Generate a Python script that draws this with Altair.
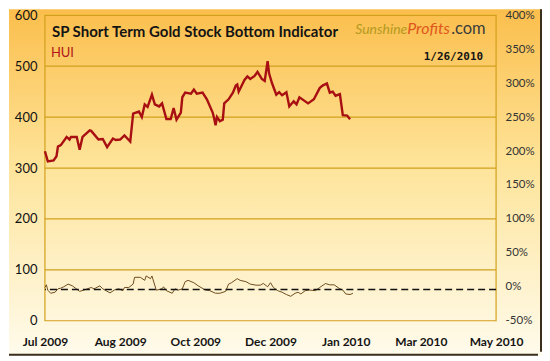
import altair as alt
import pandas as pd

# ---------------- data ----------------
hui_dates = [
    "2009-07-01", "2009-07-03", "2009-07-07", "2009-07-09", "2009-07-10", "2009-07-12",
    "2009-07-16", "2009-07-18", "2009-07-19", "2009-07-23", "2009-07-25", "2009-07-27",
    "2009-08-01", "2009-08-02", "2009-08-07", "2009-08-10", "2009-08-13", "2009-08-17",
    "2009-08-19", "2009-08-22", "2009-08-25", "2009-08-29", "2009-08-31", "2009-09-04",
    "2009-09-06", "2009-09-08", "2009-09-10", "2009-09-13", "2009-09-15", "2009-09-18",
    "2009-09-20", "2009-09-23", "2009-09-26", "2009-09-28", "2009-09-30", "2009-10-03",
    "2009-10-04", "2009-10-06", "2009-10-10", "2009-10-12", "2009-10-14", "2009-10-18",
    "2009-10-21", "2009-10-25", "2009-10-26", "2009-10-27", "2009-10-28", "2009-10-30",
    "2009-11-01", "2009-11-02", "2009-11-05", "2009-11-08", "2009-11-10", "2009-11-11",
    "2009-11-12", "2009-11-16", "2009-11-18", "2009-11-20", "2009-11-23", "2009-11-25",
    "2009-11-28", "2009-11-30", "2009-12-02", "2009-12-03", "2009-12-05", "2009-12-08",
    "2009-12-10", "2009-12-12", "2009-12-15", "2009-12-17", "2009-12-20", "2009-12-22",
    "2009-12-24", "2009-12-30", "2010-01-03", "2010-01-07", "2010-01-09", "2010-01-12",
    "2010-01-14", "2010-01-16", "2010-01-18", "2010-01-21", "2010-01-23", "2010-01-26",
    "2010-01-28",
]
hui_values = [
    333, 313, 315, 323, 342, 345,
    361, 356, 361, 361, 336, 361,
    374, 373, 356, 357, 341, 358,
    355, 356, 364, 352, 407, 411,
    400, 425, 420, 444, 425, 421,
    427, 396, 396, 418, 395, 409,
    439, 448, 446, 454, 446, 448,
    435, 409, 398, 384, 400, 392,
    395, 427, 435, 448, 462, 464,
    450, 473, 480, 475, 481, 489,
    475, 471, 510, 486, 467, 444,
    449, 443, 449, 421, 431, 425,
    439, 427, 435, 457, 462, 466,
    448, 450, 442, 445, 404, 403,
    396,
]

ind_dates = [
    "2009-07-01", "2009-07-02", "2009-07-03", "2009-07-05", "2009-07-08", "2009-07-10",
    "2009-07-12", "2009-07-14", "2009-07-17", "2009-07-20", "2009-07-25", "2009-07-28",
    "2009-08-02", "2009-08-04", "2009-08-08", "2009-08-10", "2009-08-15", "2009-08-18",
    "2009-08-21", "2009-08-24", "2009-08-25", "2009-08-28", "2009-08-31", "2009-09-01",
    "2009-09-05", "2009-09-08", "2009-09-09", "2009-09-12", "2009-09-13", "2009-09-16",
    "2009-09-20", "2009-09-21", "2009-09-23", "2009-09-27", "2009-09-29", "2009-10-01",
    "2009-10-04", "2009-10-06", "2009-10-08", "2009-10-12", "2009-10-15", "2009-10-20",
    "2009-10-23", "2009-10-27", "2009-10-30", "2009-11-03", "2009-11-05", "2009-11-07",
    "2009-11-11", "2009-11-13", "2009-11-17", "2009-11-20", "2009-11-24", "2009-11-27",
    "2009-11-29", "2009-12-02", "2009-12-04", "2009-12-06", "2009-12-09", "2009-12-12",
    "2009-12-15", "2009-12-18", "2009-12-21", "2009-12-23", "2009-12-25", "2009-12-28",
    "2009-12-31", "2010-01-04", "2010-01-07", "2010-01-11", "2010-01-14", "2010-01-17",
    "2010-01-21", "2010-01-23", "2010-01-25", "2010-01-28", "2010-01-30",
]
ind_values = [
    -1, 3, -5, -9.5, -8, -3,
    -2, 0, 4, 1.4, -6.7, -4.8,
    -1, -3, 1.4, -3, -9, -4.8,
    -3, -5.7, -1, -1, 4, 14,
    14, 9.5, 16, 12, 16, -5,
    -3, 0, -5.7, -9.5, -3, -5,
    -3, 7.6, 9.5, 6, 1.4, -4.8,
    -5.7, -9.5, -9.5, -6.7, 4, 6,
    12, 9.5, 7.6, 4, 2.4, 2.4,
    5, 0, 6, -1, -5.7, -8,
    -11.4, -14, -9.5, -8, -10.5, -5.7,
    -4.8, -5.7, -1, 4.8, 2.9, 2.9,
    -3, -4.8, -10.5, -11.4, -9.5,
]

left_ticks = [0, 100, 200, 300, 400, 500, 600]
grid_values = [100, 200, 300, 400, 500]
right_ticks = [-50, 0, 50, 100, 150, 200, 250, 300, 350, 400]
x_tick_dates = ["2009-07-01", "2009-08-22", "2009-10-13", "2009-12-04",
                "2010-01-25", "2010-03-18", "2010-05-09"]
x_domain = ["2009-07-01", "2010-05-09"]
threshold_values = [-4]

title_text = "SP Short Term Gold Stock Bottom Indicator"
series_label = "HUI"
date_text = "1/26/2010"

# ---------------- layout ----------------
W, H = 452, 306
PAD_L, PAD_R, PAD_T, PAD_B = 36, 46, 6, 35
GOLD = "#D2A01C"
FONT = "Lato"


def dt(s):
    y, m, d = (int(p) for p in s.split("-"))
    return alt.DateTime(year=y, month=m, date=d, utc=True)


hui_df = pd.DataFrame({"date": hui_dates, "hui": hui_values})
ind_df = pd.DataFrame({"date": ind_dates, "ind": ind_values})
grid_df = pd.DataFrame({"g": grid_values})
thr_df = pd.DataFrame({"t": threshold_values})
one = pd.DataFrame({"k": [0]})

x_enc = alt.X(
    "date:T",
    scale=alt.Scale(type="utc", domain=[dt(x_domain[0]), dt(x_domain[1])]),
    axis=alt.Axis(
        values=[dt(s) for s in x_tick_dates], labelExpr="utcFormat(datum.value, '%b %Y')",
        title=None, grid=False, domain=False, ticks=False, zindex=2,
        labelFont=FONT, labelFontSize=12, labelFontWeight="bold", labelColor="#141414",
        labelPadding=16, labelFlush=False, labelOverlap=False,
    ),
)

bg = alt.Chart(one).mark_rect(
    fill=alt.Gradient(
        gradient="linear", x1=0, x2=0, y1=0, y2=1,
        stops=[alt.GradientStop(color="#FBBE4C", offset=0),
               alt.GradientStop(color="#FEE49A", offset=0.45),
               alt.GradientStop(color="#FFFBEC", offset=1)],
    )
).encode(x=alt.value(-PAD_L), x2=alt.value(W + PAD_R),
         y=alt.value(-PAD_T), y2=alt.value(H + PAD_B))

edge_right = alt.Chart(one).mark_rule(color="#3A2E1C", strokeWidth=2).encode(
    x=alt.value(W + PAD_R - 1), y=alt.value(-PAD_T), y2=alt.value(H + PAD_B - 4))
edge_bottom = alt.Chart(one).mark_rule(color="#3A2E1C", strokeWidth=2).encode(
    x=alt.value(-PAD_L), x2=alt.value(W + PAD_R - 4), y=alt.value(H + PAD_B - 1))

plot_box = alt.Chart(one).mark_rect(filled=False, stroke=GOLD, strokeWidth=1.2).encode(
    x=alt.value(0), x2=alt.value(W), y=alt.value(0), y2=alt.value(H))

grid = alt.Chart(grid_df).mark_rule(color=GOLD, strokeWidth=1.2).encode(
    y=alt.Y("g:Q", scale=alt.Scale(domain=[0, 600]), axis=None))

hui_line = alt.Chart(hui_df).mark_line(color="#A80F12", strokeWidth=2.4).encode(
    x=x_enc,
    y=alt.Y("hui:Q", scale=alt.Scale(domain=[0, 600]),
            axis=alt.Axis(orient="left", values=left_ticks, title=None, grid=False,
                          domain=False, ticks=False, zindex=2, labelFont=FONT,
                          labelFontSize=13, labelColor="#111111", labelPadding=8)),
)

ind_line = alt.Chart(ind_df).mark_line(color="#6E4C20", strokeWidth=1).encode(
    x=x_enc,
    y=alt.Y("ind:Q", scale=alt.Scale(domain=[-50, 400]),
            axis=alt.Axis(orient="right", values=right_ticks, labelExpr="datum.value + '%'",
                          title=None, grid=False, domain=False, ticks=False, zindex=2,
                          labelFont=FONT, labelFontSize=11.5, labelColor="#333333",
                          labelPadding=9)),
)

thr_rule = alt.Chart(thr_df).mark_rule(color="#111111", strokeWidth=1.3, strokeDash=[7, 4]).encode(
    y=alt.Y("t:Q", scale=alt.Scale(domain=[-50, 400]), axis=None))


def label(text, x, y, **kw):
    return alt.Chart(one).mark_text(text=text, baseline="alphabetic", **kw).encode(
        x=alt.value(x), y=alt.value(y))


title = label(title_text, 7, 22, align="left", font=FONT, fontSize=15,
              fontWeight="bold", color="#141414")
hui_lab = label(series_label, 6, 42, align="left", font=FONT, fontSize=13, color="#B0151A")
logo1 = label("Sunshine", 363, 19, align="right", font=FONT, fontSize=14, fontStyle="italic",
              color="#B49A1E")
logo2 = label("Profits", 363, 19, align="left", font=FONT, fontSize=16, fontStyle="italic",
              color="#E0561C")
logo3 = label(".com", 407, 19, align="left", font=FONT, fontSize=16.5, color="#3C3C3C")
date_lab = label(date_text, 439, 45, align="right", font="DejaVu Sans Mono", fontSize=11,
                 fontWeight="bold", color="#141414")

chart = alt.layer(
    bg, edge_right, edge_bottom, grid, plot_box, ind_line, thr_rule, hui_line,
    title, hui_lab, logo1, logo2, logo3, date_lab,
).resolve_scale(y="independent").properties(
    width=W, height=H, padding=0, background="white"
).configure_view(strokeWidth=0)

chart.save("out.html", embed_options={"renderer": "svg", "actions": False})
